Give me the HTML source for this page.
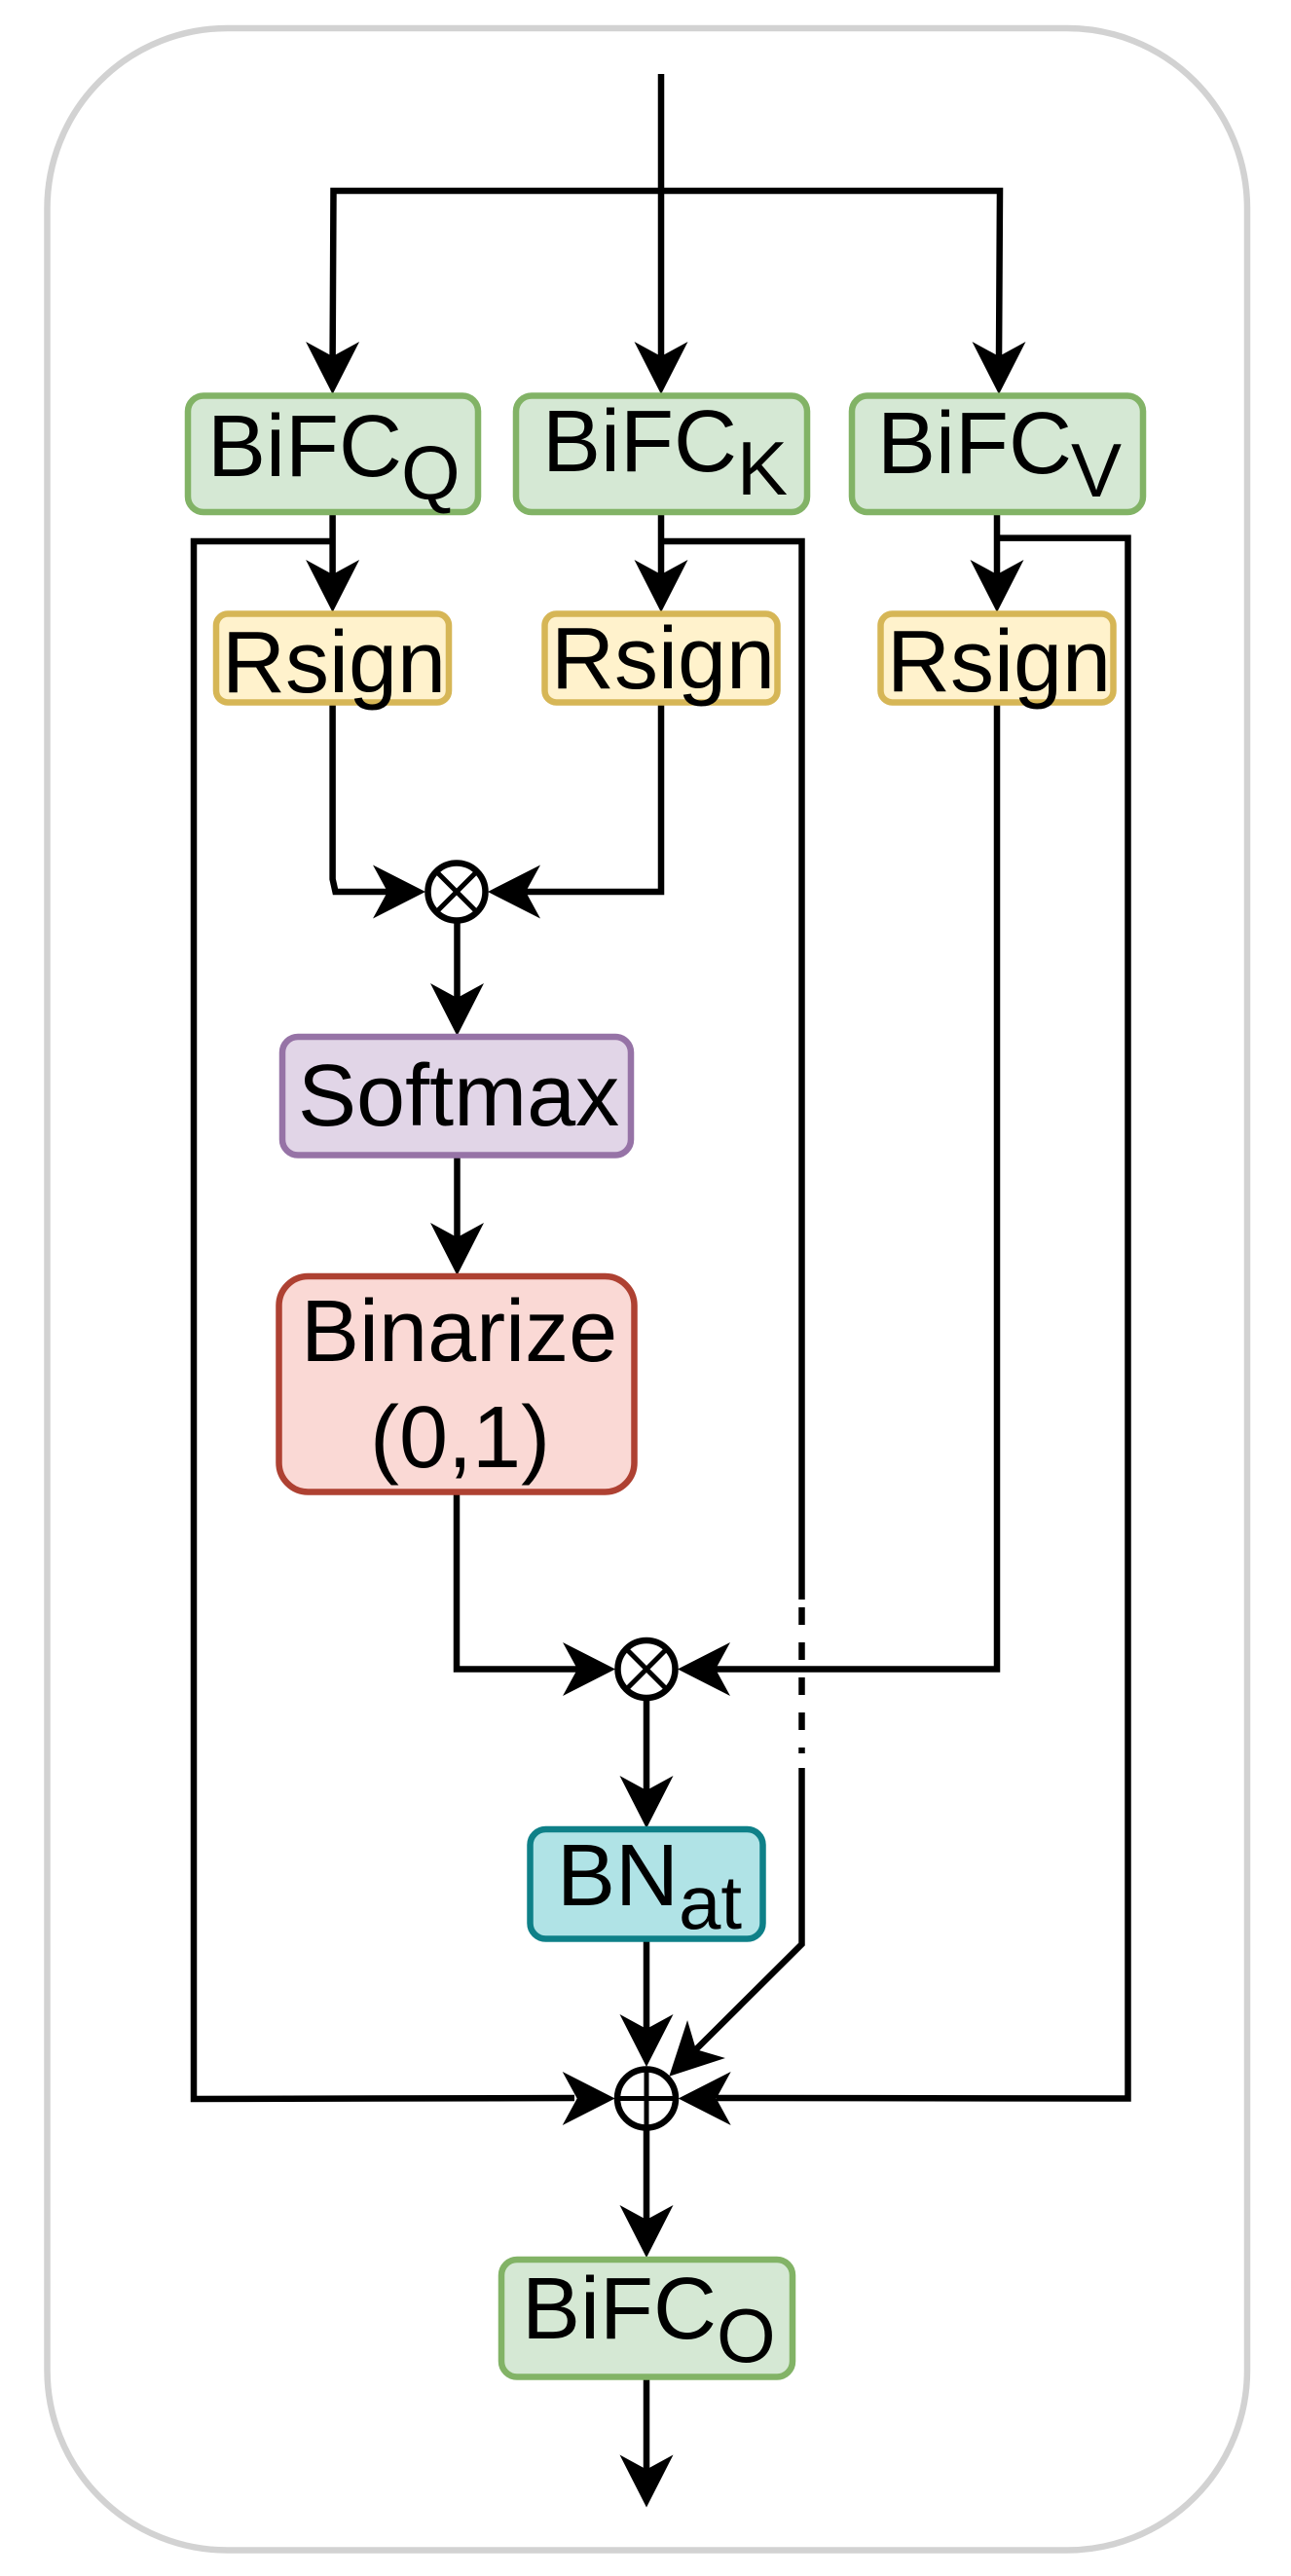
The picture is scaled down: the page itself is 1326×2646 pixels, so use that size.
<!DOCTYPE html>
<html>
<head>
<meta charset="utf-8">
<style>
html,body{margin:0;padding:0;background:#fff;width:1326px;height:2646px;overflow:hidden}
svg{display:block}
text{font-family:"Liberation Sans",Arial,sans-serif;font-size:90px;fill:#000}
.s{font-size:78px}
.l{fill:none;stroke:#000;stroke-width:6.5;stroke-linejoin:miter}
.g{fill:#d5e8d4;stroke:#82b366;stroke-width:6.5}
.y{fill:#fff2cc;stroke:#d6b656;stroke-width:6.5}
.p{fill:#e1d5e7;stroke:#9673a6;stroke-width:6.5}
.r{fill:#fad9d5;stroke:#ae4132;stroke-width:6.5}
.t{fill:#b0e3e6;stroke:#0e8088;stroke-width:6.5}
.c{fill:#fff;stroke:#000;stroke-width:6.5}
</style>
</head>
<body>
<svg width="1326" height="2646" viewBox="0 0 1326 2646" xmlns="http://www.w3.org/2000/svg">
<defs>
<polygon id="a" points="0,0 -27.500,-54 0,-39 27.500,-54" fill="#000"/>
</defs>
<rect x="48.500" y="29" width="1232.500" height="2590.500" rx="185" ry="185" fill="#fff" stroke="#d2d2d2" stroke-width="6.500"/>

<!-- top connectors -->
<path class="l" d="M679 76V370"/>
<path class="l" d="M341.600 370L342.500 196H1027L1026 370"/>
<use href="#a" transform="translate(341.600,405)"/>
<use href="#a" transform="translate(679,405)"/>
<use href="#a" transform="translate(1026,405)"/>

<!-- box to rsign -->
<path class="l" d="M341.600 527V595"/>
<path class="l" d="M679 527V595"/>
<path class="l" d="M1024 527V595"/>
<use href="#a" transform="translate(341.600,629)"/>
<use href="#a" transform="translate(679,629)"/>
<use href="#a" transform="translate(1024,629)"/>

<!-- skip connections -->
<path class="l" d="M341.600 556H199V2156L590 2155"/>
<path class="l" d="M679 556H823.500V1643"/>
<path class="l" d="M823.500 1651V1669M823.500 1687V1705M823.500 1723V1741M823.500 1759V1777M823.500 1795V1801"/>
<path class="l" d="M823.500 1816V1997L712 2108"/>
<path class="l" d="M1024 552.600H1158.500V2155.500L736 2155"/>

<!-- rsign to mul 1 -->
<path class="l" d="M341.600 723V903L344.500 916H402"/>
<path class="l" d="M679 723V916H536"/>
<use href="#a" transform="translate(437,916) rotate(-90)"/>
<use href="#a" transform="translate(501,916) rotate(90)"/>
<path class="l" d="M469.500 948V1030"/>
<use href="#a" transform="translate(469.500,1064)"/>
<path class="l" d="M469.500 1188V1275"/>
<use href="#a" transform="translate(469.500,1310)"/>

<!-- to mul 2 -->
<path class="l" d="M469 1534V1714.500H595"/>
<path class="l" d="M1024 723V1714.500H735"/>
<use href="#a" transform="translate(632,1714.500) rotate(-90)"/>
<use href="#a" transform="translate(696,1714.500) rotate(90)"/>
<path class="l" d="M664 1747V1845"/>
<use href="#a" transform="translate(664,1878)"/>
<path class="l" d="M664 1993V2090"/>
<use href="#a" transform="translate(664,2123)"/>
<use href="#a" transform="translate(631.700,2155.500) rotate(-90)"/>
<use href="#a" transform="translate(696.700,2155.500) rotate(90)"/>
<use href="#a" transform="translate(687.300,2132.700) rotate(45)"/>
<path class="l" d="M664 2188V2285"/>
<use href="#a" transform="translate(664,2319)"/>
<path class="l" d="M664 2443V2540"/>
<use href="#a" transform="translate(664,2575.500)"/>

<!-- circles -->
<circle class="c" cx="469" cy="916" r="29.500"/>
<path class="l" d="M448 895L490 937M490 895L448 937" style="stroke-width:5"/>
<circle class="c" cx="664" cy="1714.500" r="29.500"/>
<path class="l" d="M643 1693.500L685 1735.500M685 1693.500L643 1735.500" style="stroke-width:5"/>
<circle class="c" cx="664" cy="2155.500" r="30"/>
<path class="l" d="M664 2125V2186M634 2155.500H694" style="stroke-width:5"/>

<!-- BiFC boxes -->
<rect class="g" x="193" y="406.500" width="298" height="119.500" rx="16"/>
<rect class="g" x="530" y="406.500" width="299" height="119.500" rx="16"/>
<rect class="g" x="875" y="406.500" width="299" height="119.500" rx="16"/>
<text x="213" y="489">BiFC</text><text class="s" x="412" y="513">Q</text>
<text x="557" y="484">BiFC</text><text class="s" x="757" y="508">K</text>
<text x="901" y="486">BiFC</text><text class="s" x="1100" y="510">V</text>

<!-- Rsign boxes -->
<rect class="y" x="222" y="630.500" width="239" height="91" rx="12"/>
<rect class="y" x="559.500" y="630.500" width="239" height="91" rx="12"/>
<rect class="y" x="904.500" y="630.500" width="239" height="91" rx="12"/>
<text x="228" y="711">Rsign</text>
<text x="566" y="707">Rsign</text>
<text x="911" y="710">Rsign</text>

<!-- Softmax -->
<rect class="p" x="290" y="1065" width="358" height="121.500" rx="16"/>
<text x="306" y="1156">Softmax</text>

<!-- Binarize -->
<rect class="r" x="286.500" y="1311" width="365" height="221.500" rx="30"/>
<text x="309" y="1398">Binarize</text>
<text x="380" y="1507">(0,1)</text>

<!-- BNat -->
<rect class="t" x="544.500" y="1879" width="239" height="112.500" rx="16"/>
<text x="572" y="1957">BN</text><text class="s" x="697" y="1981">at</text>

<!-- BiFC O -->
<rect class="g" x="515" y="2321" width="299" height="120.500" rx="16"/>
<text x="536" y="2402">BiFC</text><text class="s" x="736" y="2426">O</text>
</svg>
</body>
</html>
